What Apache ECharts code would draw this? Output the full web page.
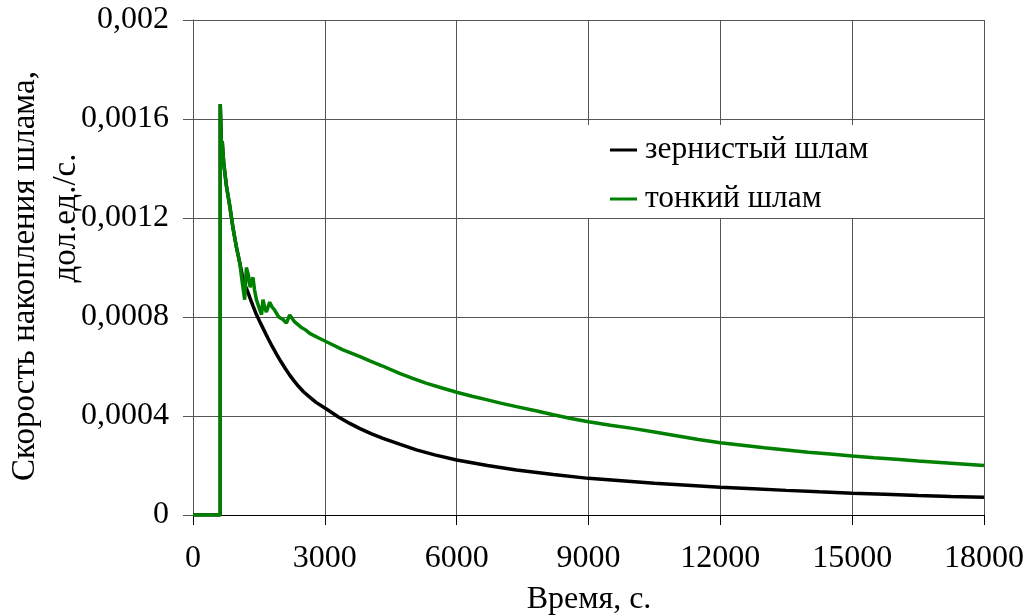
<!DOCTYPE html>
<html>
<head>
<meta charset="utf-8">
<script src="https://cdn.jsdelivr.net/npm/echarts@6/dist/echarts.min.js"></script>
<style>
html,body{margin:0;padding:0;background:#fff;}
#c{width:1029px;height:616px;}
</style>
</head>
<body>
<div id="c"></div>
<script>
// Data: [time, rate]
const seriesNames = ['зернистый шлам', 'тонкий шлам'];
const xTicks = {min: 0, max: 18000, interval: 3000};
const yTicks = {min: 0, max: 0.002, interval: 0.0004};
const yTitleLine1 = 'Скорость накопления шлама,';
const yTitleLine2 = 'дол.ед./с.';
const xTitle = 'Время, с.';

const coarseSludge = [
  [0,0],[620,0],[620,0.00166],[650,0.00148],[665,0.00151],[700,0.00142],[760,0.00133],
  [835,0.00125],[910,0.00116],[990,0.00108],[1063,0.00102],[1120,0.00097],[1180,0.00093],
  [1250,0.00090],[1300,0.000875],[1365,0.000845],[1443,0.00081],[1518,0.000782],[1600,0.000752],
  [1700,0.000716],[1800,0.000682],[1900,0.00065],[2000,0.00062],[2100,0.000592],
  [2200,0.000565],[2300,0.000542],[2400,0.00052],[2520,0.000497],[2656,0.000476],[2800,0.000455],
  [3036,0.000428],[3300,0.000397],[3566,0.00037],[3800,0.000349],[4050,0.000329],[4324,0.00031],
  [4700,0.000286],[5083,0.000263],[5500,0.000243],[6000,0.000222],[6700,0.000200],[7360,0.000182],
  [8200,0.000164],[9000,0.000148],[9750,0.000138],[10500,0.000128],[11250,0.00012],[12000,0.000112],
  [12750,0.000106],[13500,0.0000995],[14250,0.0000935],[15000,0.0000877],[15750,0.0000835],
  [16500,0.000079],[17250,0.000075],[18000,0.0000715]
];

const fineSludge = [
  [0,0],[620,0],[620,0.00166],[650,0.00148],[665,0.00151],[700,0.00142],[760,0.00133],
  [835,0.00125],[910,0.00116],[990,0.00108],[1063,0.00102],[1120,0.00094],[1176,0.00087],
  [1215,0.00100],[1260,0.00097],[1300,0.00092],[1329,0.00094],[1365,0.00096],[1400,0.00091],
  [1443,0.00087],[1518,0.00083],[1560,0.00081],[1593,0.00087],[1630,0.00084],[1670,0.00082],
  [1745,0.00086],[1800,0.00084],[1850,0.00083],[1950,0.00080],[2048,0.00079],[2125,0.000775],
  [2200,0.000808],[2314,0.00078],[2450,0.00076],[2560,0.000748],[2656,0.000734],[2850,0.000716],
  [3036,0.0007],[3200,0.000686],[3400,0.000668],[3600,0.000654],[3800,0.00064],[4050,0.000621],
  [4300,0.000603],[4700,0.000572],[5000,0.000552],[5300,0.000533],[5650,0.000514],[6000,0.000496],
  [6350,0.00048],[6700,0.000465],[7000,0.000452],[7360,0.000438],[7800,0.000421],[8200,0.000405],
  [8600,0.00039],[9000,0.000377],[9500,0.000363],[10000,0.00035],[10500,0.000335],[11000,0.00032],
  [11500,0.000305],[12000,0.000292],[12500,0.000282],[13000,0.000272],[13500,0.000263],
  [14000,0.000254],[14500,0.000246],[15000,0.000238],[15500,0.000231],[16000,0.000225],
  [16500,0.000218],[17000,0.000212],[17500,0.000206],[18000,0.0002]
];

const FONT = 'Liberation Serif';
const chart = echarts.init(document.getElementById('c'), null, {renderer: 'canvas'});

function fmtY(v) {
  if (v === 0) return '0';
  return String(+v.toPrecision(4)).replace('.', ',');
}
function fmtX(v) { return String(v); }

chart.setOption({
  backgroundColor: '#fff',
  animation: false,
  grid: {left: 193, right: 45, top: 20, bottom: 101, containLabel: false},
  xAxis: {
    type: 'value', min: xTicks.min, max: xTicks.max, interval: xTicks.interval,
    axisLine: {show: true, onZero: false, lineStyle: {color: '#000', width: 1}},
    axisTick: {show: true, length: 10, lineStyle: {color: '#000'}},
    axisLabel: {color: '#000', fontFamily: FONT, fontSize: 32, margin: 28, formatter: fmtX},
    splitLine: {show: true, lineStyle: {color: '#555', width: 1}}
  },
  yAxis: {
    type: 'value', min: yTicks.min, max: yTicks.max, interval: yTicks.interval,
    axisLine: {show: true, lineStyle: {color: '#555', width: 1}},
    axisTick: {show: true, length: 10, lineStyle: {color: '#555'}},
    axisLabel: {color: '#000', fontFamily: FONT, fontSize: 32, margin: 24, formatter: fmtY},
    splitLine: {show: true, lineStyle: {color: '#555', width: 1}}
  },
  legend: {
    orient: 'vertical', left: 580, top: 125,
    backgroundColor: '#fff',
    padding: [9, 28, 3, 30],
    itemGap: 17,
    itemWidth: 27, itemHeight: 3,
    icon: 'rect',
    textStyle: {color: '#000', fontFamily: FONT, fontSize: 31.5, padding: [0, 0, 0, 3]},
    data: seriesNames
  },
  graphic: [
    {type: 'text', x: 25, y: 276, rotation: Math.PI / 2,
     style: {text: yTitleLine1, font: '33px ' + FONT, fill: '#000', textAlign: 'center', textVerticalAlign: 'middle'}},
    {type: 'text', x: 66, y: 218, rotation: Math.PI / 2,
     style: {text: yTitleLine2, font: '33px ' + FONT, fill: '#000', textAlign: 'center', textVerticalAlign: 'middle'}},
    {type: 'text', x: 589, y: 600,
     style: {text: xTitle, font: '32px ' + FONT, fill: '#000', textAlign: 'center', textVerticalAlign: 'middle'}}
  ],
  series: [
    {name: seriesNames[0], type: 'line', data: coarseSludge, showSymbol: false, symbol: 'none',
     lineStyle: {color: '#000', width: 3.5}, itemStyle: {color: '#000'}, z: 2},
    {name: seriesNames[1], type: 'line', data: fineSludge, showSymbol: false, symbol: 'none',
     lineStyle: {color: '#008000', width: 3.5}, itemStyle: {color: '#008000'}, z: 3}
  ]
});
</script>
</body>
</html>
